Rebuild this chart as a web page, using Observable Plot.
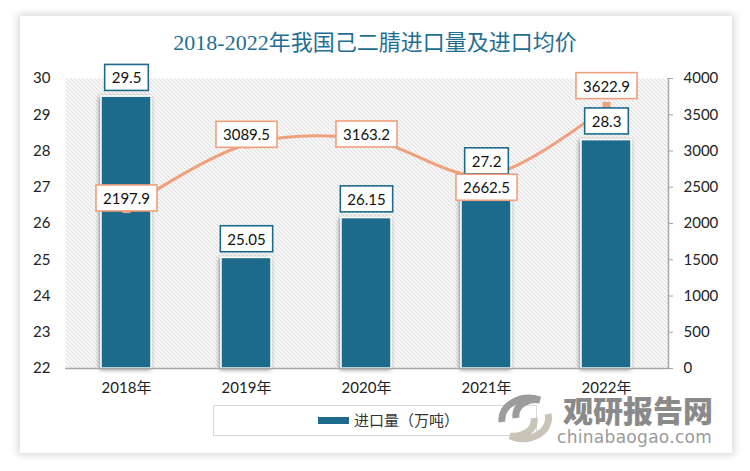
<!DOCTYPE html>
<html><head><meta charset="utf-8">
<script src="https://cdn.jsdelivr.net/npm/d3@7"></script>
<script src="https://cdn.jsdelivr.net/npm/@observablehq/plot@0.6"></script>
<style>
body{margin:0;background:#fff;width:750px;height:471px;overflow:hidden;position:relative;font-family:Lato,"Noto Sans CJK SC",sans-serif;}
#card{position:absolute;left:20px;top:16px;width:712px;height:437px;background:#fff;box-shadow:0 0 8px 2px rgba(0,0,0,0.16);}
#title{position:absolute;left:0;top:29px;width:750px;text-align:center;font-family:"Liberation Serif","Noto Sans CJK SC",serif;font-size:22px;line-height:28px;color:#1f6e93;}
#chart{position:absolute;left:0;top:60px;}
#legend{position:absolute;left:213px;top:405px;width:324px;height:31px;border:1px solid #d9d9d9;box-sizing:border-box;}
#legend .sw{position:absolute;left:104px;top:11px;width:31px;height:7px;background:#1d6a8c;}
#legend .lt{position:absolute;left:140px;top:4px;font-size:15px;line-height:20px;color:#333;font-family:"Noto Sans CJK SC",sans-serif;}
#wm1{position:absolute;left:563px;top:389px;font-family:"Noto Sans CJK SC",sans-serif;font-weight:900;font-size:30px;line-height:40px;color:#8a8a8a;}
#wm2{position:absolute;left:557px;top:427px;font-family:"DejaVu Sans",sans-serif;font-size:17px;line-height:20px;color:#9a9a9a;letter-spacing:0.3px;}
#logo{position:absolute;left:492px;top:392px;}
</style></head>
<body>
<div id="card"></div>
<div id="title">2018-2022年我国己二腈进口量及进口均价</div>
<div id="chart"></div>
<div id="legend"><div class="sw"></div><div class="lt">进口量（万吨）</div></div>
<svg id="logo" width="66" height="52" viewBox="0 0 66 52">
  <path d="M10,30 C8,12 30,2 48,8 C38,6 22,12 24,26" fill="none" stroke="#9c9c9c" stroke-width="7"/>
  <path d="M56,22 C60,40 38,52 18,44 C30,46 44,38 42,26" fill="none" stroke="#c9c3b8" stroke-width="7"/>
</svg>
<div id="wm1">观研报告网</div>
<div id="wm2">chinabaogao.com</div>
<script>
const years = ["2018年","2019年","2020年","2021年","2022年"];
const volumes = [29.5, 25.05, 26.15, 27.2, 28.3];
const prices = [2197.9, 3089.5, 3163.2, 2662.5, 3622.9];
const leftTicks = [22,23,24,25,26,27,28,29,30];
const rightTicks = [0,500,1000,1500,2000,2500,3000,3500,4000];
// label nudges (pixels) for the price labels, as placed in the original
const priceLabelNudge = {"2018年":-10, "2019年":-9, "2020年":-4, "2021年":13, "2022年":-19};

const data = years.map((year,i)=>({year, vol: volumes[i], price: prices[i]}));
const y2 = d3.scaleLinear([0,4000],[22,30]);
const barColor = "#1d6a8c", lineColor = "#f0a07c", axisGray = "#a6a6a6";

const plot = Plot.plot({
  width:750, height:340, marginTop:18, marginBottom:32, marginLeft:65, marginRight:82,
  style:{fontFamily:'Lato,"Noto Sans CJK SC",sans-serif', fontSize:"15px", color:"#222", background:"transparent", overflow:"visible"},
  x:{domain:years, paddingInner:0.58, paddingOuter:0.29, label:null},
  y:{domain:[22,30], label:null},
  marks:[
    Plot.frame({fill:"url(#hatch)", stroke:null}),
    Plot.barY(data,{x:"year", y1:22, y2:"vol", fill:barColor, stroke:"white", strokeWidth:1.5}),
    Plot.ruleY([22],{stroke:axisGray, strokeWidth:1.5}),
    Plot.frame({anchor:"right", stroke:axisGray, strokeWidth:1.5}),
    Plot.axisX({tickSize:0, tickPadding:14, fill:"#222", label:null}),
    Plot.axisY(leftTicks,{anchor:"left", tickSize:0, tickPadding:15, fill:"#222", label:null}),
    Plot.axisY(rightTicks,{anchor:"right", y:y2, tickSize:4, tickPadding:11, stroke:axisGray, fill:"#222", tickFormat:d=>String(d), label:null}),
    Plot.line(data,{x:"year", y:d=>y2(d.price), curve:"catmull-rom", stroke:lineColor, strokeWidth:3}),
    Plot.dot(data,{x:"year", y:d=>y2(d.price), symbol:"square", r:4.5, fill:lineColor}),
    Plot.text(data,{x:"year", y:"vol", text:d=>String(d.vol), dy:-18, fill:"#111", fontSize:15}),
    ...years.map(yr => Plot.text(data.filter(d=>d.year===yr),{x:"year", y:d=>y2(d.price), text:d=>String(d.price), dy:priceLabelNudge[yr], fill:"#111", fontSize:15}))
  ]
});
document.getElementById("chart").appendChild(plot);
const ns = "http://www.w3.org/2000/svg";
const defs = document.createElementNS(ns,"defs");
defs.innerHTML = `<pattern id="hatch" patternUnits="userSpaceOnUse" width="4" height="4">
  <rect width="4" height="4" fill="#ffffff"/>
  <path d="M-1,-1 L5,5 M3,-1 L5,1 M-1,3 L1,5" stroke="#c4c4c4" stroke-width="1"/></pattern>
  <filter id="shadow" x="-20%" y="-10%" width="140%" height="120%">
  <feDropShadow dx="-1" dy="1" stdDeviation="2.2" flood-color="#000" flood-opacity="0.45"/></filter>`;
plot.insertBefore(defs, plot.firstChild);
const barG = plot.querySelector('g[aria-label="bar"]');
if (barG) barG.setAttribute("filter","url(#shadow)");
const textGs = Array.from(plot.querySelectorAll('g[aria-label="text"]'));
function boxify(g, stroke){
  if (!g) return;
  Array.from(g.querySelectorAll("text")).forEach(t=>{
    const b = t.getBBox();
    const r = document.createElementNS(ns,"rect");
    r.setAttribute("x", b.x-7); r.setAttribute("y", b.y-4);
    r.setAttribute("width", b.width+14); r.setAttribute("height", b.height+8);
    r.setAttribute("fill","#fff"); r.setAttribute("stroke",stroke); r.setAttribute("stroke-width","1.6");
    if (t.getAttribute("transform")) r.setAttribute("transform", t.getAttribute("transform"));
    t.parentNode.insertBefore(r,t);
  });
}
textGs.forEach((g,i)=>boxify(g, i===0 ? barColor : lineColor));
</script>
</body></html>
